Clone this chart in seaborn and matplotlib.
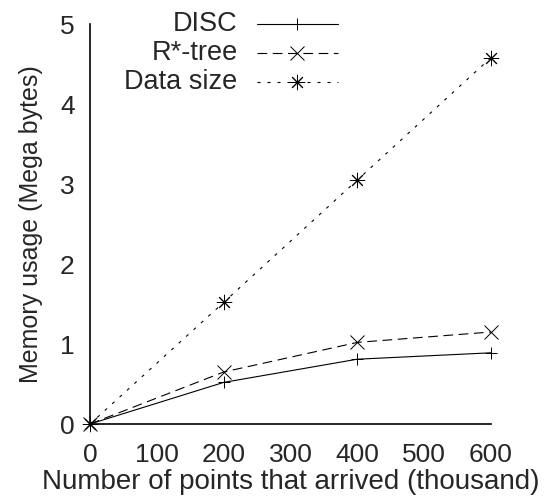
import matplotlib
matplotlib.use("Agg")
import matplotlib.pyplot as plt
import seaborn as sns
import pandas as pd

# Memory usage vs. number of arrived points
points = [0, 200, 400, 600]
disc = [0.0, 0.52, 0.81, 0.89]
rstar = [0.0, 0.65, 1.02, 1.15]
data_size = [0.0, 1.52, 3.05, 4.58]
series_names = ["DISC", "R*-tree", "Data size"]
x_ticks = [0, 100, 200, 300, 400, 500, 600]
y_ticks = [0, 1, 2, 3, 4, 5]

sns.set_theme(style="white")
plt.rcParams["font.family"] = ["Liberation Sans", "DejaVu Sans"]
plt.rcParams["lines.scale_dashes"] = False

fig = plt.figure(figsize=(5.49, 5.04), dpi=100)
ax = fig.add_axes([90 / 549, 80 / 504, 401 / 549, 400 / 504])

styles = {
    "DISC": dict(marker="+", markersize=8, linestyle="-"),
    "R*-tree": dict(marker="x", markersize=10, linestyle=(0, (7, 4))),
    "Data size": dict(marker=(8, 2, 0), markersize=11, linestyle=(0, (2.2, 5))),
}
values = {"DISC": disc, "R*-tree": rstar, "Data size": data_size}

for name in series_names:
    df = pd.DataFrame({"x": points, "y": values[name]})
    st = styles[name]
    sns.lineplot(data=df, x="x", y="y", ax=ax, color="black", linewidth=0.8,
                 marker=st["marker"], markersize=st["markersize"],
                 markeredgecolor="black", markeredgewidth=0.7,
                 linestyle=st["linestyle"], clip_on=False)

ax.set_xlim(0, 600)
ax.set_ylim(0, 5)
ax.set_xticks(x_ticks)
ax.set_yticks(y_ticks)
for side in ["top", "right"]:
    ax.spines[side].set_visible(False)
for side in ["left", "bottom"]:
    ax.spines[side].set_linewidth(1.2)
    ax.spines[side].set_color("black")
ax.tick_params(direction="in", length=7, width=1.2, color="black",
               labelsize=19)
ax.tick_params(axis="x", pad=14)
ax.tick_params(axis="y", pad=11)
ax.set_xlabel("Number of points that arrived (thousand)", fontsize=20, labelpad=1)
ax.set_ylabel("Memory usage (Mega bytes)", fontsize=18, labelpad=12)

# key: text right-aligned, sample line to the right
key_rows = [1.0, 0.9275, 0.855]
for name, yk in zip(series_names, key_rows):
    st = styles[name]
    ax.text(0.368, yk, name, transform=ax.transAxes, ha="right", va="center",
            fontsize=19.5)
    ax.plot([0.416, 0.618], [yk, yk], transform=ax.transAxes, color="black",
            linewidth=0.8, linestyle=st["linestyle"], clip_on=False)
    ax.plot([0.517], [yk], transform=ax.transAxes, color="black",
            marker=st["marker"], markersize=st["markersize"],
            markeredgewidth=0.7, linestyle="none", clip_on=False)

fig.savefig("out.png", dpi=100)
